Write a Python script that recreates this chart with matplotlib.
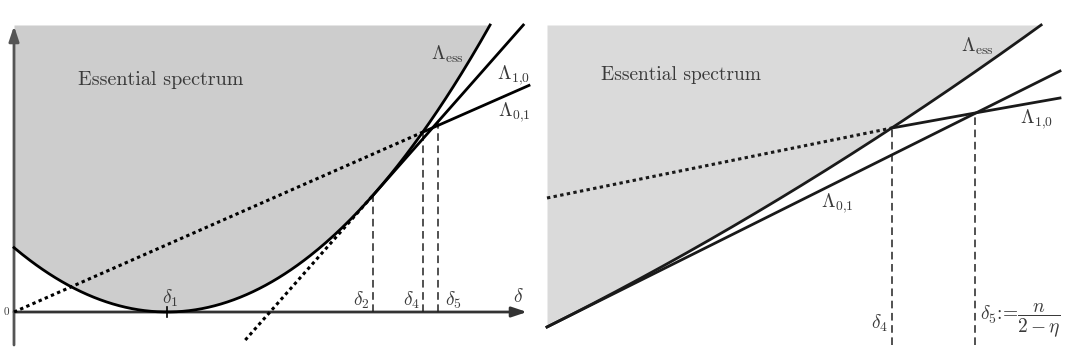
import numpy as np
import matplotlib
matplotlib.use("Agg")
import matplotlib.pyplot as plt

plt.rcParams['mathtext.fontset'] = 'cm'

# ================== LEFT PANEL VALUES ==================
d1, d2, d5 = 1.53, 3.59, 4.24                  # marked points on the delta axis
ess_curv = 0.275                               # Lambda_ess = ess_curv*(delta-d1)^2
top_left = 2.87                                # top of the shaded box
l01_slope = 0.44                               # Lambda_{0,1} through the origin
l10_start_y = -0.28                            # where the dotted Lambda_{1,0} starts
x_axis_end, y_axis_end, y_axis_bottom = 5.13, 2.86, -0.33

# ================== RIGHT PANEL VALUES ==================
r_d4, r_d5 = 3.45, 4.28
r_l01_slope = 0.499                            # lower straight line
r_ess_curv = 0.0227                            # Lambda_ess = slope*x + curv*x^2
r_top = 3.02
r_l10_dot_x = [0.0, 3.45]
r_l10_dot_y = [1.29, 1.99]
r_l10_x = [3.45, 4.28, 5.13]
r_l10_y = [1.99, 2.14, 2.29]
r_x_end = 5.13
r_dash_bottom = -0.18

shade_left = '#cdcdcd'
shade_right = '#dadada'
txt = '#3a3a3a'
dotted = (0, (1.1, 1.1))
dashed = (0, (5, 3))

fig = plt.figure(figsize=(10.69, 3.59), dpi=100)

# ----------------------------- left panel -----------------------------
ax = fig.add_axes([0, 0, 535 / 1069, 1])
ax.set_xlim(-0.14, 5.21)
ax.set_ylim(-0.47, 3.12)
ax.axis('off')

x_top = d1 + np.sqrt(top_left / ess_curv)
xs = np.linspace(0, x_top, 300)
ess = ess_curv * (xs - d1) ** 2
ax.fill_between(xs, ess, top_left, color=shade_left, lw=0, zorder=0)
ax.plot(xs, ess, color='black', lw=2.0, zorder=3)

# axes with arrows
ax.annotate('', xy=(x_axis_end, 0), xytext=(0, 0),
            arrowprops=dict(arrowstyle='-|>,head_length=0.9,head_width=0.3',
                            color='#333333', lw=2.0, shrinkA=0, shrinkB=0), zorder=2)
ax.annotate('', xy=(0, y_axis_end), xytext=(0, y_axis_bottom),
            arrowprops=dict(arrowstyle='-|>,head_length=0.9,head_width=0.3',
                            color='#555555', lw=2.0, shrinkA=0, shrinkB=0), zorder=2)
ax.plot([d1, d1], [-0.05, 0.05], color='black', lw=1.2, zorder=4)

# Lambda_{1,0}: tangent to Lambda_ess at d2
ess_d2 = ess_curv * (d2 - d1) ** 2
l10_slope = 2 * ess_curv * (d2 - d1)
x_l10_start = d2 + (l10_start_y - ess_d2) / l10_slope
x_l10_end = d2 + (top_left - ess_d2) / l10_slope
ax.plot([x_l10_start, d2], [l10_start_y, ess_d2], color='black', lw=2.2,
        ls=dotted, zorder=3)
ax.plot([d2, x_l10_end], [ess_d2, top_left], color='black', lw=2.0, zorder=3)

# Lambda_{0,1}: through the origin, leaves the shaded region at d4
qb = 2 * ess_curv * d1 + l01_slope
d4 = (qb + np.sqrt(qb ** 2 - 4 * ess_curv * ess_curv * d1 ** 2)) / (2 * ess_curv)
x01_end = 5.15
ax.plot([0, d4], [0, l01_slope * d4], color='black', lw=2.2, ls=dotted, zorder=3)
ax.plot([d4, x01_end], [l01_slope * d4, l01_slope * x01_end], color='black',
        lw=2.0, zorder=3)

# dashed verticals
for xv, yv in [(d2, ess_d2), (d4, l01_slope * d4),
               (d5, ess_d2 + l10_slope * (d5 - d2))]:
    ax.plot([xv, xv], [0, yv], color='#222222', lw=1.1, ls=dashed, zorder=2)

ax.text(0.64, 2.32, 'Essential spectrum', fontsize=14.5, family='cmr10',
        color=txt, va='center', ha='left')
ax.text(4.33, 2.58, r'$\Lambda_{\rm ess}$', fontsize=14, color=txt,
        ha='center', va='center')
ax.text(5.0, 2.37, r'$\Lambda_{1{,}0}$', fontsize=14, color=txt,
        ha='center', va='center')
ax.text(5.0, 2.00, r'$\Lambda_{0{,}1}$', fontsize=14, color=txt,
        ha='center', va='center')
ax.text(d1 + 0.03, 0.14, r'$\delta_1$', fontsize=14, color=txt,
        ha='center', va='center')
ax.text(d2 - 0.03, 0.12, r'$\delta_2$', fontsize=14, color=txt,
        ha='right', va='center')
ax.text(3.98, 0.12, r'$\delta_4$', fontsize=14, color=txt,
        ha='center', va='center')
ax.text(4.39, 0.12, r'$\delta_5$', fontsize=14, color=txt,
        ha='center', va='center')
ax.text(5.04, 0.15, r'$\delta$', fontsize=14, color=txt,
        ha='center', va='center')
ax.text(-0.08, 0.0, '0', fontsize=8, family='cmr10', color=txt,
        ha='center', va='center')

# ----------------------------- right panel -----------------------------
bx = fig.add_axes([540 / 1069, 0, 529 / 1069, 1])
bx.set_xlim(-0.07, 5.22)
bx.set_ylim(-0.32, 3.27)
bx.axis('off')

# where Lambda_ess reaches the top of the box
r_x_top = (-r_l01_slope + np.sqrt(r_l01_slope ** 2 + 4 * r_ess_curv * r_top)) / (2 * r_ess_curv)
rx = np.linspace(0, r_x_top, 300)
r_ess = r_l01_slope * rx + r_ess_curv * rx ** 2
bx.fill_between(rx, r_ess, r_top, color=shade_right, lw=0, zorder=0)
bx.plot(rx, r_ess, color='#1a1a1a', lw=2.0, zorder=3)

bx.plot([0, r_x_end], [0, r_l01_slope * r_x_end], color='#1a1a1a', lw=2.0, zorder=3)
bx.plot(r_l10_dot_x, r_l10_dot_y, color='#1a1a1a', lw=2.2, ls=dotted, zorder=3)
bx.plot(r_l10_x, r_l10_y, color='#1a1a1a', lw=2.0, zorder=3)

for xv, yv in [(r_d4, r_l10_y[0]), (r_d5, r_l10_y[1])]:
    bx.plot([xv, xv], [r_dash_bottom, yv], color='#222222', lw=1.1, ls=dashed, zorder=2)

bx.text(0.54, 2.52, 'Essential spectrum', fontsize=14, family='cmr10',
        color=txt, va='center', ha='left')
bx.text(4.30, 2.81, r'$\Lambda_{\rm ess}$', fontsize=14, color=txt,
        ha='center', va='center')
bx.text(2.90, 1.24, r'$\Lambda_{0{,}1}$', fontsize=14, color=txt,
        ha='center', va='center')
bx.text(4.90, 2.08, r'$\Lambda_{1{,}0}$', fontsize=14, color=txt,
        ha='center', va='center')
bx.text(r_d4 - 0.04, 0.04, r'$\delta_4$', fontsize=14, color=txt,
        ha='right', va='center')
bx.text(r_d5 + 0.05, 0.07, r'$\delta_5$:=$\dfrac{n}{2-\eta}$', fontsize=14,
        family='cmr10', color=txt, ha='left', va='center')

fig.savefig('out.png', dpi=100)
